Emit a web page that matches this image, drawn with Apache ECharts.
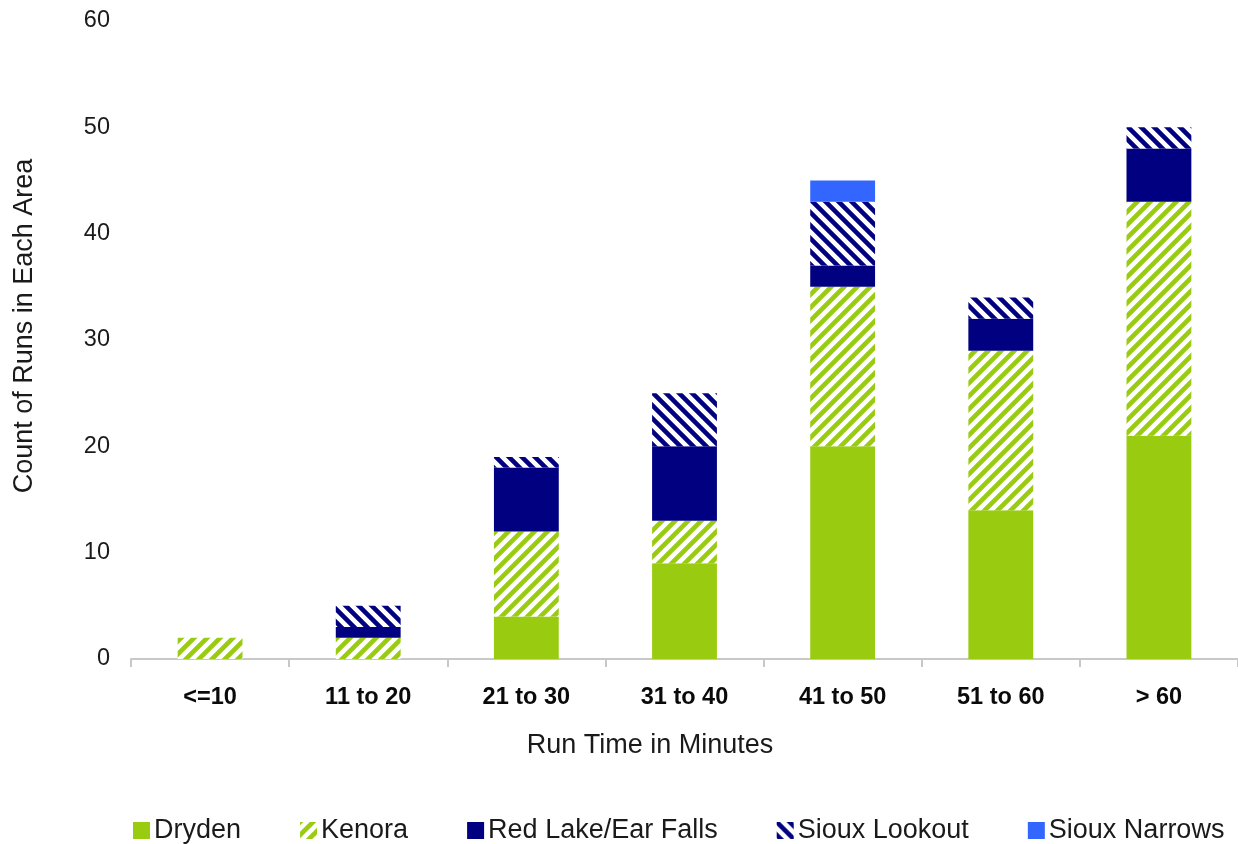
<!DOCTYPE html>
<html>
<head>
<meta charset="utf-8">
<script src="https://cdn.jsdelivr.net/npm/echarts@6/dist/echarts.min.js"></script>
<style>
html,body{margin:0;padding:0;background:#fff;}
#main{width:1238px;height:844px;}
</style>
</head>
<body>
<div id="main"></div>
<script>
var categories = ['<=10', '11 to 20', '21 to 30', '31 to 40', '41 to 50', '51 to 60', '> 60'];
var dryden      = [0, 0, 4, 9, 20, 14, 21];
var kenora      = [2, 2, 8, 4, 15, 15, 22];
var redLake     = [0, 1, 6, 7, 2, 3, 5];
var siouxLookout= [0, 2, 1, 5, 6, 2, 2];
var siouxNarrows= [0, 0, 0, 0, 2, 0, 0];
var yTicks = [0, 10, 20, 30, 40, 50, 60];

function stripes(color, forward) {
  var s = 13;
  var c = document.createElement('canvas');
  c.width = s; c.height = s;
  var ctx = c.getContext('2d');
  ctx.fillStyle = '#ffffff';
  ctx.fillRect(0, 0, s, s);
  ctx.strokeStyle = color;
  ctx.lineWidth = 4.6;
  ctx.lineCap = 'square';
  ctx.beginPath();
  for (var k = -1; k <= 1; k++) {
    if (forward) { ctx.moveTo(k * s - s, 2 * s); ctx.lineTo(k * s + 2 * s, -s); }
    else { ctx.moveTo(k * s - s, -s); ctx.lineTo(k * s + 2 * s, 2 * s); }
  }
  ctx.stroke();
  return { image: c, repeat: 'repeat' };
}

var green = '#99cc11';
var navy = '#000080';
var blue = '#3366ff';

var chart = echarts.init(document.getElementById('main'));
var fontFam = 'Liberation Sans, Arial, sans-serif';

function mk(name, data, color) {
  return {
    name: name, type: 'bar', stack: 'total', data: data,
    barWidth: '41%',
    itemStyle: { color: color },
    emphasis: { disabled: true },
    animation: false
  };
}

chart.setOption({
  animation: false,
  grid: { left: 131, right: 0, top: 21, bottom: 185, containLabel: false },
  legend: {
    left: 128, top: 812,
    itemWidth: 17, itemHeight: 17, itemGap: 59,
    icon: 'rect',
    textStyle: { fontFamily: fontFam, fontSize: 27, color: '#1a1a1a', padding: [0, 0, 0, -1] },
    data: ['Dryden', 'Kenora', 'Red Lake/Ear Falls', 'Sioux Lookout', 'Sioux Narrows']
  },
  xAxis: {
    type: 'category', data: categories,
    axisLine: { lineStyle: { color: '#c8c8c8', width: 2 } },
    axisTick: { show: true, length: 8, lineStyle: { color: '#c8c8c8', width: 2 } },
    axisLabel: { margin: 27, fontFamily: fontFam, fontSize: 23.5, fontWeight: 'bold', color: '#0a0a0a' }
  },
  yAxis: {
    type: 'value', min: 0, max: 60, interval: 10,
    axisLine: { show: false }, axisTick: { show: false }, splitLine: { show: false },
    axisLabel: { margin: 21, fontFamily: fontFam, fontSize: 23.5, color: '#1a1a1a',
      formatter: function (v) { return yTicks.indexOf(v) >= 0 ? String(v) : ''; } }
  },
  graphic: [
    { type: 'text', x: 650, y: 746, style: { text: 'Run Time in Minutes', font: '27px ' + fontFam, fill: '#1a1a1a', textAlign: 'center', textVerticalAlign: 'middle' } },
    { type: 'text', x: 25, y: 326, rotation: Math.PI / 2, style: { text: 'Count of Runs in Each Area', font: '27px ' + fontFam, fill: '#1a1a1a', textAlign: 'center', textVerticalAlign: 'middle' } }
  ],
  series: [
    mk('Dryden', dryden, green),
    mk('Kenora', kenora, stripes(green, true)),
    mk('Red Lake/Ear Falls', redLake, navy),
    mk('Sioux Lookout', siouxLookout, stripes(navy, false)),
    mk('Sioux Narrows', siouxNarrows, blue)
  ]
});
</script>
</body>
</html>
